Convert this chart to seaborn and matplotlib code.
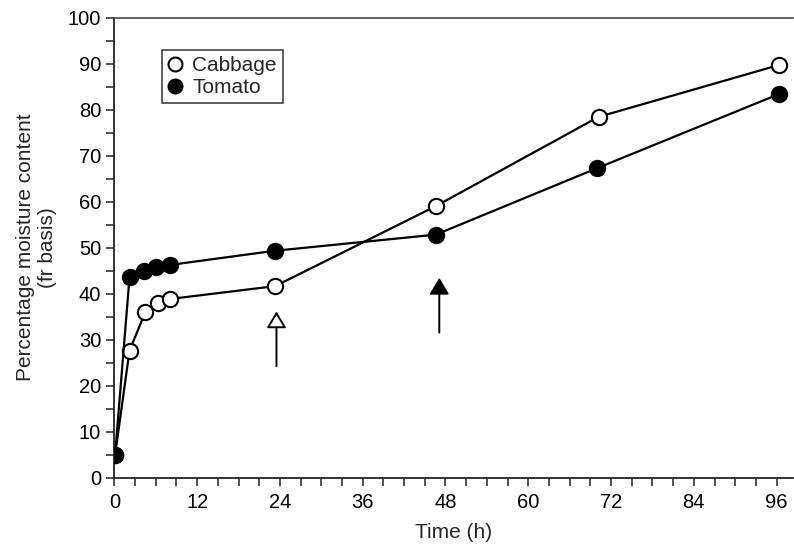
import matplotlib
matplotlib.use("Agg")
import matplotlib.pyplot as plt
import seaborn as sns
import numpy as np
import pandas as pd
from matplotlib.lines import Line2D
from matplotlib.ticker import MultipleLocator

# ---- data ----
cabbage_time = [0.1, 2.2, 4.5, 6.4, 8.0, 23.3, 46.6, 70.2, 96.4]
cabbage_moist = [4.8, 27.6, 36.0, 38.0, 38.8, 41.6, 59.0, 78.4, 89.7]
tomato_time = [0.1, 2.2, 4.3, 6.1, 8.0, 23.3, 46.6, 69.9, 96.4]
tomato_moist = [4.8, 43.5, 45.0, 45.8, 46.2, 49.3, 52.8, 67.2, 83.4]

arrow_x = [23.5, 47.1]
arrow_tail = [24.2, 31.5]
arrow_tip = [36.1, 43.4]
arrow_fill = ["white", "black"]

xticks = [0, 12, 24, 36, 48, 60, 72, 84, 96]
yticks = [0, 10, 20, 30, 40, 50, 60, 70, 80, 90, 100]

sns.set_theme(style="ticks")
plt.rcParams["font.family"] = ["Liberation Sans", "DejaVu Sans"]

fig = plt.figure(figsize=(7.94, 5.47), dpi=100)
ax = fig.add_axes([0.144, 0.127, 0.855, 0.841])

df_c = pd.DataFrame({"t": cabbage_time, "m": cabbage_moist})
df_t = pd.DataFrame({"t": tomato_time, "m": tomato_moist})

sns.lineplot(data=df_c, x="t", y="m", ax=ax, color="black", lw=1.6,
             marker="o", markersize=11, markerfacecolor="white",
             markeredgecolor="black", markeredgewidth=1.5, zorder=3)
sns.lineplot(data=df_t, x="t", y="m", ax=ax, color="black", lw=1.6,
             marker="o", markersize=11, markerfacecolor="black",
             markeredgecolor="black", markeredgewidth=1.5, zorder=3)

for x, y0, y1, fc in zip(arrow_x, arrow_tail, arrow_tip, arrow_fill):
    ax.annotate("", xy=(x, y1), xytext=(x, y0),
                arrowprops=dict(arrowstyle="-|>,head_length=1.0,head_width=0.6",
                                fc=fc, ec="black", lw=1.4,
                                shrinkA=0, shrinkB=0, mutation_scale=10))

ax.set_xlim(0, 98.4)
ax.set_ylim(0, 100)
ax.set_xticks(xticks)
ax.set_yticks(yticks)
ax.xaxis.set_minor_locator(MultipleLocator(3))
ax.yaxis.set_minor_locator(MultipleLocator(5))
ax.tick_params(axis="both", which="both", direction="out", length=6,
               width=1.1, color="#222222", labelsize=14.5, labelcolor="black")
ax.tick_params(axis="both", which="minor", length=6)
ax.tick_params(axis="x", pad=5)

for s in ["left", "bottom"]:
    ax.spines[s].set_color("#222222")
    ax.spines[s].set_linewidth(1.3)
ax.spines["top"].set_color("#444444")
ax.spines["top"].set_linewidth(1.2)
ax.spines["right"].set_visible(False)

ax.set_xlabel("Time (h)", fontsize=15, labelpad=8)
ax.set_ylabel("Percentage moisture content\n(fr basis)", fontsize=15, labelpad=8,
              linespacing=1.15)

handles = [
    Line2D([], [], ls="none", marker="o", markersize=10, markerfacecolor="white",
           markeredgecolor="black", markeredgewidth=1.5, label="Cabbage"),
    Line2D([], [], ls="none", marker="o", markersize=10, markerfacecolor="black",
           markeredgecolor="black", markeredgewidth=1.5, label="Tomato"),
]
leg = ax.legend(handles=handles, loc="upper left", bbox_to_anchor=(0.07, 0.93),
                borderaxespad=0, fontsize=15, frameon=True, fancybox=False,
                handlelength=0.7, handletextpad=0.45, borderpad=0.3,
                labelspacing=0.15)
leg.get_frame().set_edgecolor("black")
leg.get_frame().set_linewidth(1.1)

fig.savefig("out.png", dpi=100)
